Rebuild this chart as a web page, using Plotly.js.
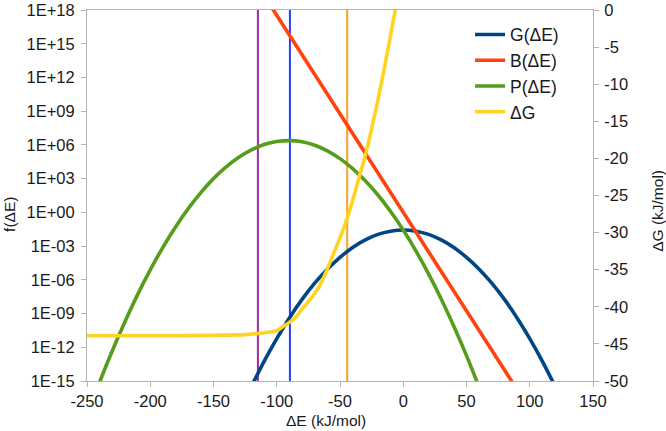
<!DOCTYPE html>
<html>
<head>
<meta charset="utf-8">
<script src="https://cdn.plot.ly/plotly-3.0.1.min.js"></script>
<style>html,body{margin:0;padding:0;background:#fff;}#chart{width:666px;height:431px;}</style>
</head>
<body>
<div id="chart"></div>
<script>
// ΔE (kJ/mol) sample positions and read values
const xG = [-120,-110,-100,-90,-80,-70,-60,-50,-40,-30,-20,-10,0,10,20,30,40,50,60,70,80,90,100,110,120];
const yG = [3.4e-16,5.6e-14,5.9e-12,4.1e-10,1.8e-8,5.0e-7,8.9e-6,1.0e-4,7.6e-4,3.6e-3,1.1e-2,2.1e-2,2.66e-2,2.1e-2,1.1e-2,3.6e-3,7.6e-4,1.0e-4,8.9e-6,5.0e-7,1.8e-8,4.1e-10,5.9e-12,5.6e-14,3.4e-16];

const xB = [-110,-50,0,50,90];
const yB = [1.9e19,5.8e8,1,1.7e-9,1.7e-16];

const xP = [-250,-240,-230,-220,-210,-200,-190,-180,-170,-160,-150,-140,-130,-120,-110,-100,-90,-80,-70,-60,-50,-40,-30,-20,-10,0,10,20,30,40,50,60];
const yP = [8.5e-19,7.9e-16,4.9e-13,1.9e-10,4.8e-8,7.6e-6,7.8e-4,5.1e-2,2.16,58,1.0e3,1.1e4,7.9e4,3.6e5,1.07e6,2.0e6,2.4e6,1.9e6,9.3e5,3.0e5,6.0e4,7.8e3,6.5e2,35,1.2,2.7e-2,3.8e-4,3.4e-6,2.0e-8,7.4e-11,1.8e-13,2.7e-16];

const xDG = [-250,-200,-150,-125,-115,-105,-100,-95,-90,-85,-80,-75,-70,-65,-60,-55,-50,-45,-40,-35,-30,-25,-20,-15,-10,-5];
const yDG = [-43.9,-43.9,-43.85,-43.75,-43.6,-43.4,-43.2,-42.65,-42.1,-41.4,-40.3,-39.3,-38.2,-36.8,-34.9,-32.8,-30.7,-28.4,-25.7,-22.6,-19.6,-16.0,-12.1,-7.9,-3.4,1.2];

// vertical marker positions (ΔE)
const vPurple = -114.9;
const vBlue = -89.6;
const vOrange = -44.3;
const vSpan = [1e-15, 1e18];

const yTickVals = [1e-15,1e-12,1e-9,1e-6,1e-3,1,1e3,1e6,1e9,1e12,1e15,1e18];
const yTickText = ["1E-15","1E-12","1E-09","1E-06","1E-03","1E+00","1E+03","1E+06","1E+09","1E+12","1E+15","1E+18"];
const xTickVals = [-250,-200,-150,-100,-50,0,50,100,150];
const xTickText = ["-250","-200","-150","-100","-50","0","50","100","150"];
const y2TickVals = [-50,-45,-40,-35,-30,-25,-20,-15,-10,-5,0];
const y2TickText = ["-50","-45","-40","-35","-30","-25","-20","-15","-10","-5","0"];

const lw = 3.6;
const traces = [
  {x:[vPurple,vPurple], y:vSpan, mode:'lines', line:{color:'#9d2aaa', width:2}, showlegend:false, hoverinfo:'skip'},
  {x:[vBlue,vBlue], y:vSpan, mode:'lines', line:{color:'#2040ff', width:2}, showlegend:false, hoverinfo:'skip'},
  {x:[vOrange,vOrange], y:vSpan, mode:'lines', line:{color:'#ff9e1f', width:2}, showlegend:false, hoverinfo:'skip'},
  {x:xG, y:yG, name:'G(ΔE)', mode:'lines', line:{color:'#004586', width:lw, shape:'spline'}},
  {x:xB, y:yB, name:'B(ΔE)', mode:'lines', line:{color:'#ff420e', width:lw}},
  {x:xP, y:yP, name:'P(ΔE)', mode:'lines', line:{color:'#579d1c', width:lw, shape:'spline'}},
  {x:xDG, y:yDG, name:'ΔG', mode:'lines', yaxis:'y2', line:{color:'#ffd320', width:lw, shape:'spline'}}
];

const axCol = '#b3b3b3';
const tf = {size:16.5, color:'#1a1a1a'};
const titleFont = {size:15.5, color:'#1a1a1a'};
const layout = {
  width:666, height:431,
  margin:{l:87, r:73, t:10, b:50},
  paper_bgcolor:'#fff', plot_bgcolor:'#fff',
  font:{family:'Liberation Sans, Arial, sans-serif', size:14, color:'#1a1a1a'},
  showlegend:true,
  legend:{x:0.757, y:0.982, xanchor:'left', yanchor:'top', bgcolor:'rgba(255,255,255,0)', borderwidth:0, font:{size:17.5}, tracegroupgap:0},
  xaxis:{range:[-250,150], tickvals:xTickVals, ticktext:xTickText, showgrid:false, zeroline:false, showline:true, linecolor:axCol, linewidth:1, mirror:true, ticks:'outside', ticklen:5, tickcolor:axCol, tickfont:tf},
  yaxis:{type:'log', range:[-15,18], tickvals:yTickVals, ticktext:yTickText, showgrid:false, zeroline:false, showline:true, linecolor:axCol, linewidth:1, ticks:'outside', ticklen:5, tickcolor:axCol, tickfont:tf, ticklabelstandoff:3},
  yaxis2:{overlaying:'y', side:'right', range:[-50,0], tickvals:y2TickVals, ticktext:y2TickText, showgrid:false, zeroline:false, showline:true, linecolor:axCol, linewidth:1, ticks:'outside', ticklen:5, tickcolor:axCol, tickfont:tf, ticklabelstandoff:2},
  annotations:[
    {text:'ΔE (kJ/mol)', xref:'paper', yref:'paper', x:0.472, y:-0.107, xanchor:'center', yanchor:'middle', showarrow:false, font:titleFont},
    {text:'f(ΔE)', xref:'paper', yref:'paper', x:-0.152, y:0.448, xanchor:'center', yanchor:'middle', textangle:-90, showarrow:false, font:titleFont},
    {text:'ΔG (kJ/mol)', xref:'paper', yref:'paper', x:1.126, y:0.458, xanchor:'center', yanchor:'middle', textangle:-90, showarrow:false, font:titleFont}
  ]
};

Plotly.newPlot('chart', traces, layout, {staticPlot:true, displayModeBar:false});
</script>
</body>
</html>
